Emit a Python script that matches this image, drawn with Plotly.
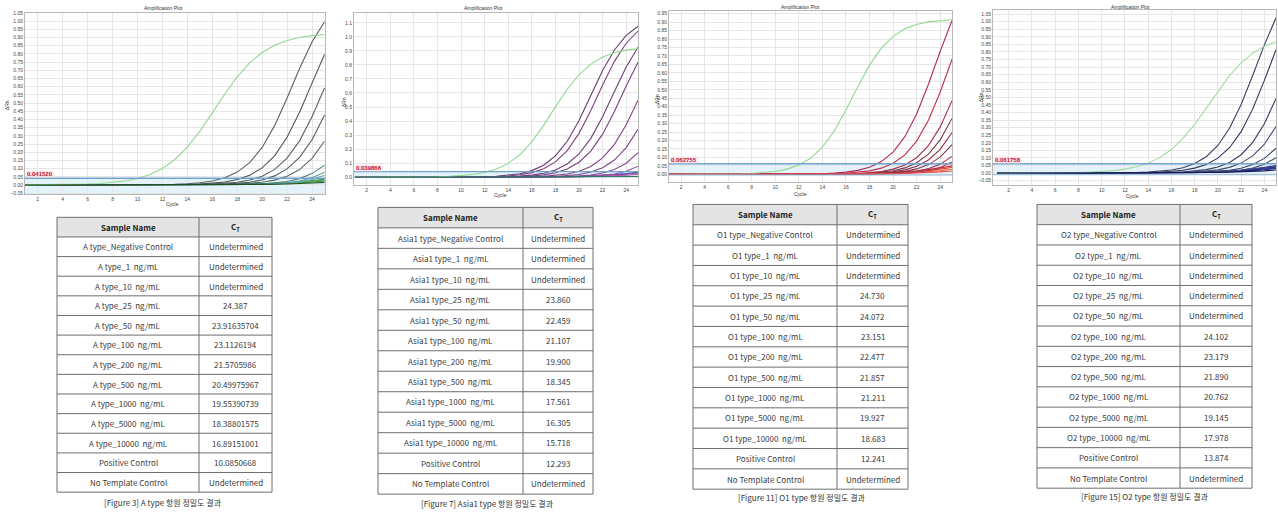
import numpy as np
import plotly.graph_objects as go

W, H = 1278, 513

# ---- table rows (shared order) ----
row_suffix = ["_Negative Control", "_1  ng/mL", "_10  ng/mL", "_25  ng/mL", "_50  ng/mL",
              "_100  ng/mL", "_200  ng/mL", "_500  ng/mL", "_1000  ng/mL", "_5000  ng/mL",
              "_10000  ng/mL"]

a_names = ["A type" + s for s in row_suffix] + ["Positive Control", "No Template Control"]
a_ct = ["Undetermined", "Undetermined", "Undetermined", "24.387", "23.91635704", "23.1126194",
        "21.5705986", "20.49975967", "19.55390739", "18.38801575", "16.89151001", "10.0850668",
        "Undetermined"]

asia_names = ["Asia1 type" + s for s in row_suffix] + ["Positive Control", "No Template Control"]
asia_ct = ["Undetermined", "Undetermined", "Undetermined", "23.860", "22.459", "21.107", "19.900",
           "18.345", "17.561", "16.305", "15.718", "12.293", "Undetermined"]

o1_names = ["O1 type" + s for s in row_suffix] + ["Positive Control", "No Template Control"]
o1_ct = ["Undetermined", "Undetermined", "Undetermined", "24.730", "24.072", "23.151", "22.477",
         "21.857", "21.211", "19.927", "18.683", "12.241", "Undetermined"]

o2_names = ["O2 type" + s for s in row_suffix] + ["Positive Control", "No Template Control"]
o2_ct = ["Undetermined", "Undetermined", "Undetermined", "Undetermined", "Undetermined", "24.102",
         "23.179", "21.890", "20.762", "19.145", "17.978", "13.874", "Undetermined"]

header_labels = ["<b>Sample Name</b>", "<b>C<sub>T</sub></b>"]

# final-cycle dRn of wells without a Ct
a_flat_end = [0.025, 0.035, 0.030, 0.015]
asia_flat_end = [0.035, 0.030, 0.020, 0.005]
o1_flat_end = [0.040, 0.030, 0.050, 0.020]
o2_flat_end = [0.040, 0.035, 0.030, 0.045, 0.050, 0.020]

thresholds = [0.041520, 0.039866, 0.062755, 0.061758]
threshold_labels = ["0.041520", "0.039866", "0.062755", "0.061758"]

# amplification shape per panel: (sample plateau, sample slope, control plateau, control slope)
shape = [(1.20, 1.65, 0.93, 2.0),
         (1.16, 1.58, 0.93, 1.75),
         (1.30, 1.65, 0.92, 1.66),
         (1.40, 1.72, 0.92, 2.05)]

colors = [
    ["#2f6f2f", "#3d8b3d", "#58b058", "#6aa8a8", "#5e9c9c", "#4f8585", "#5a6a70", "#505c64",
     "#58626a", "#4a545c", "#5c6166", "#8fd88f", "#1f4f1f"],
    ["#4466cc", "#6a4aa0", "#c050a0", "#9a4f9a", "#8a4a8f", "#7d4585", "#8a3f80", "#764080",
     "#6e3c78", "#80407a", "#6a3a72", "#90d890", "#2a7a6a"],
    ["#e03a3a", "#f07030", "#d02828", "#b03050", "#a83a58", "#8a3a4a", "#9a3048", "#7a3a48",
     "#a8304a", "#c03048", "#b02858", "#90d890", "#e05050"],
    ["#1a2a8a", "#2a3aa0", "#1e2a70", "#303a80", "#3a4090", "#404a78", "#3a4470", "#454d6a",
     "#353d60", "#2d3558", "#3a4060", "#a0dca0", "#101860"],
]

cycles = np.arange(1, 26)

# plot rectangles in page pixels: (left, right, top, bottom)
plot_px = [(25, 325, 10, 193), (354, 638, 10, 183), (669, 952, 8, 180), (993, 1276, 7, 183)]
x_ranges = [[0.98, 25.04], [0.92, 25.0], [0.98, 25.0], [0.65, 25.0]]
y_ranges = [[-0.058, 1.05], [-0.052, 1.17], [-0.043, 0.966], [-0.076, 1.077]]
y_dtick = [0.05, 0.1, 0.05, 0.05]
y_fmt = [".2f", ".1f", ".2f", ".2f"]
band_low = [-0.058, -0.007, -0.004, -0.011]

title_px = [(163, 5), (483, 5), (800, 4), (1130, 4)]
cycle_px = [(172, 203), (500, 194), (800, 192), (1132, 195)]
drn_px = [(7, 103), (344, 100), (657, 97), (981, 95)]

table_px = [(57, 272, 216, 493), (378, 593, 206, 495), (693, 908, 203, 490), (1037, 1252, 203, 489)]
table_split = [199, 523, 837, 1180]
captions = ["[Figure 3] A type 항원 정밀도 결과", "[Figure 7] Asia1 type 항원 정밀도 결과",
            "[Figure 11] O1 type 항원 정밀도 결과", "[Figure 15] O2 type 항원 정밀도 결과"]
caption_px = [(163, 503), (487, 504), (802, 498), (1145, 497)]

panels = [(a_names, a_ct, a_flat_end), (asia_names, asia_ct, asia_flat_end),
          (o1_names, o1_ct, o1_flat_end), (o2_names, o2_ct, o2_flat_end)]


def px_x(px):
    return px / W


def px_y(py):
    return min(1.0, max(0.0, 1 - py / H))


def logistic(c, plateau, slope, mid):
    return plateau / (1 + np.exp(-(c - mid) / slope))


def label(px, py, text, size, color="#333", family="Arial", **extra):
    """Centred page-level text placed by pixel position."""
    return dict(xref="paper", yref="paper", x=px_x(px), y=px_y(py), text=text,
                xanchor="center", yanchor="middle", showarrow=False,
                font=dict(size=size, color=color, family=family), **extra)


fig = go.Figure()
annotations = []
shapes = []
layout_axes = {}
table_font = "Noto Sans CJK KR"
rule = dict(color="#6e6e6e", width=1)

for i, (names, cts, flat_end) in enumerate(panels):
    k = "" if i == 0 else str(i + 1)
    xa, ya = "x" + k, "y" + k
    thr = thresholds[i]
    sp, ss, cp, cs = shape[i]
    flat_iter = iter(flat_end)
    for j, (name, ct) in enumerate(zip(names, cts)):
        if ct == "Undetermined":
            end = next(flat_iter)
            mid = cycles[-1] + 3.0 * np.log(0.3 / end - 1)
            y = logistic(cycles, 0.3, 3.0, mid) - logistic(1, 0.3, 3.0, mid)
        else:
            ctv = float(ct)
            if name == "Positive Control":
                p, s = cp, cs
            else:
                p, s = sp, ss
            mid = ctv + s * np.log(p / thr - 1)
            y = logistic(cycles, p, s, mid)
        fig.add_trace(go.Scatter(x=cycles, y=y, mode="lines", xaxis=xa, yaxis=ya,
                                 line=dict(color=colors[i][j], width=1.1),
                                 name=name, hoverinfo="skip"))

    l, r, t, b = plot_px[i]
    grid = "#e6e6e6"
    layout_axes["xaxis" + k] = dict(
        domain=[px_x(l), px_x(r)], range=x_ranges[i], anchor=ya,
        tickvals=list(range(2, 26, 2)), tickfont=dict(size=5, color="#444", family="Arial"),
        showgrid=True, gridcolor=grid, gridwidth=1, zeroline=False,
        showline=True, linecolor="#b8b8b8", mirror=True, ticks="", fixedrange=True)
    layout_axes["yaxis" + k] = dict(
        domain=[px_y(b), px_y(t)], range=y_ranges[i], anchor=xa,
        dtick=y_dtick[i], tick0=0, tickformat=y_fmt[i],
        tickfont=dict(size=5, color="#444", family="Arial"),
        showgrid=True, gridcolor=grid, gridwidth=1, zeroline=False,
        showline=True, linecolor="#b8b8b8", mirror=True, ticks="", fixedrange=True)

    # threshold band and line
    shapes.append(dict(type="rect", xref=xa + " domain", yref=ya, x0=0, x1=1,
                       y0=band_low[i], y1=thr, fillcolor="rgba(205,232,248,0.55)",
                       line=dict(width=0), layer="below"))
    shapes.append(dict(type="line", xref=xa + " domain", yref=ya, x0=0, x1=1,
                       y0=thr, y1=thr, line=dict(color="#6fa3cc", width=1.4)))
    if i in (2, 3):
        shapes.append(dict(type="line", xref=xa + " domain", yref=ya, x0=0, x1=1,
                           y0=band_low[i], y1=band_low[i], line=dict(color="#8fb8d8", width=1)))
    annotations.append(dict(xref=xa + " domain", yref=ya, x=0.003, y=thr, xanchor="left",
                            yanchor="bottom", text="<b>" + threshold_labels[i] + "</b>",
                            showarrow=False, font=dict(size=6, color="#c0102a", family="Arial"),
                            bgcolor="rgba(255,220,225,0.6)", borderpad=0))

    tx, ty = title_px[i]
    annotations.append(label(tx, ty, "Amplification Plot", 5))
    cx, cy = cycle_px[i]
    annotations.append(label(cx, cy, "Cycle", 5))
    dx, dy = drn_px[i]
    annotations.append(label(dx, dy, "ΔRn", 5, textangle=-90))

    # result table drawn with rules and centred cell texts
    tl, tr, tt, tb = table_px[i]
    sx = table_split[i]
    rows = [header_labels] + [[n, c] for n, c in zip(names, cts)]
    row_h = (tb - tt) / len(rows)
    shapes.append(dict(type="rect", xref="paper", yref="paper",
                       x0=px_x(tl), x1=px_x(tr), y0=px_y(tt + row_h), y1=px_y(tt),
                       fillcolor="#e4e4e4", line=dict(width=0), layer="below"))
    for n in range(len(rows) + 1):
        yy = px_y(tt + n * row_h)
        shapes.append(dict(type="line", xref="paper", yref="paper",
                           x0=px_x(tl), x1=px_x(tr), y0=yy, y1=yy, line=rule))
    for xx in (tl, sx, tr):
        shapes.append(dict(type="line", xref="paper", yref="paper",
                           x0=px_x(xx), x1=px_x(xx), y0=px_y(tb), y1=px_y(tt), line=rule))
    for n, (left_txt, right_txt) in enumerate(rows):
        yc = tt + (n + 0.5) * row_h
        color = "#222" if n == 0 else "#3a3a3a"
        annotations.append(label((tl + sx) / 2, yc, left_txt, 8, color, table_font))
        annotations.append(label((sx + tr) / 2, yc, right_txt, 8, color, table_font))

    capx, capy = caption_px[i]
    annotations.append(label(capx, capy, captions[i], 8, "#333", table_font))

fig.update_layout(width=W, height=H, margin=dict(l=0, r=0, t=0, b=0),
                  paper_bgcolor="white", plot_bgcolor="white", showlegend=False,
                  annotations=annotations, shapes=shapes, **layout_axes)

fig.write_html("out.html")
